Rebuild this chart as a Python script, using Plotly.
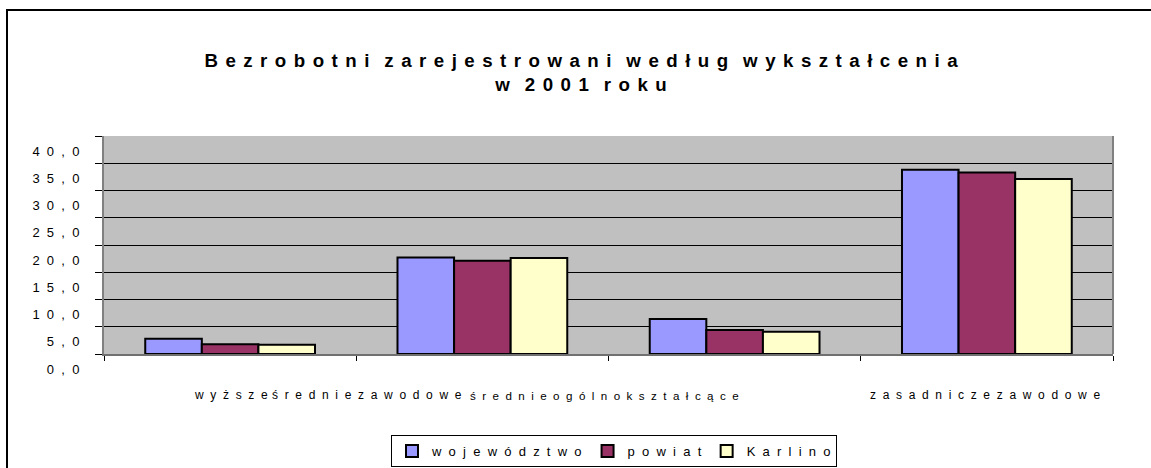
import plotly.graph_objects as go

# ---- data ----
categories = ["wyższe", "średnie zawodowe", "średnie ogólnokształcące", "zasadnicze zawodowe"]
series_names = ["województwo", "powiat", "Karlino"]
wojewodztwo = [2.8, 17.7, 6.4, 33.8]
powiat = [1.8, 17.1, 4.4, 33.3]
karlino = [1.7, 17.6, 4.1, 32.1]
y_tick_values = [0, 5, 10, 15, 20, 25, 30, 35, 40]
y_tick_labels = ["0,0", "5,0", "10,0", "15,0", "20,0", "25,0", "30,0", "35,0", "40,0"]
title_lines = ["Bezrobotni zarejestrowani według wykształcenia", "w 2001 roku"]

colors = ["#9999FF", "#993366", "#FFFFCC"]
G = "\u00a0\u00a0"


def spaced(s, gap=G, word_gap=None):
    if word_gap is None:
        word_gap = gap
    return word_gap.join(gap.join(list(w)) for w in s.split(" "))


W, H = 1151, 468
L, R, T, B = 104, 1113, 136, 354  # plot area in pixels


def px(x):
    return (x - L) / (R - L)


def py(y):
    return (B - y) / (B - T)


fig = go.Figure()
for name, vals, c in zip(series_names, [wojewodztwo, powiat, karlino], colors):
    fig.add_trace(go.Bar(
        x=categories, y=vals, name=spaced(name),
        marker=dict(color=c, line=dict(color="black", width=2)),
    ))

TG = "\u2009\u2009"
TW = "\u2009\u2009\u2009\u2009"
title_text = "<br>".join(spaced(t, gap=TG, word_gap=TW) for t in title_lines)

# x category labels, placed as in the reference (run together)
label_shifts = [-38, -212, -267, -119]
label_sizes = [12, 12, 11.6, 12]
annotations = []
for cat, sh, fs in zip(categories, label_shifts, label_sizes):
    annotations.append(dict(
        x=cat, xref="x", y=py(395), yref="paper", xanchor="left", yanchor="middle",
        text=spaced(cat.replace(" ", "")), showarrow=False, xshift=sh,
        font=dict(size=fs, color="black", family="Liberation Sans, Arial"),
    ))

fig.update_layout(
    width=W, height=H,
    margin=dict(l=L, r=W - R, t=T, b=H - B, autoexpand=False),
    paper_bgcolor="white",
    plot_bgcolor="#C0C0C0",
    font=dict(family="Liberation Sans, Arial", color="black", size=13),
    barmode="group", bargap=0.327, bargroupgap=0,
    title=dict(
        text="<b>" + title_text + "</b>",
        x=581 / W, xref="container", xanchor="center",
        y=1 - 67 / H, yref="container", yanchor="middle",
        font=dict(size=18.7, color="black", family="Liberation Sans, Arial"),
    ),
    showlegend=True,
    legend=dict(
        orientation="h", x=px(391), xanchor="left", y=py(435), yanchor="top",
        bordercolor="black", borderwidth=1, bgcolor="white",
        font=dict(size=13), traceorder="normal",
    ),
    annotations=annotations,
    shapes=[dict(
        type="rect", xref="paper", yref="paper",
        x0=px(7), x1=px(1165), y0=py(480), y1=py(10),
        line=dict(color="black", width=2), fillcolor="rgba(0,0,0,0)", layer="below",
    )],
)

fig.update_xaxes(
    showticklabels=False, ticks="outside", tickson="boundaries", ticklen=5,
    tickcolor="black", showline=True, linecolor="#707070", linewidth=2,
    mirror=False, showgrid=False, fixedrange=True,
)
fig.update_yaxes(
    range=[0, 40], tickvals=y_tick_values,
    ticktext=[spaced(t) for t in y_tick_labels],
    ticks="outside", ticklen=7, tickcolor="black",
    showline=True, linecolor="#808080", linewidth=2,
    showgrid=True, gridcolor="black", gridwidth=1,
    zeroline=False, ticklabelshift=15, ticklabelstandoff=13,
    tickfont=dict(size=13),
)

# right border of plot area
fig.add_shape(type="line", xref="paper", yref="paper", x0=1, x1=1, y0=0, y1=1,
              line=dict(color="#808080", width=2))

fig.write_html(
    "out.html",
    config={"displayModeBar": False},
    post_script="document.body.style.margin='0';document.body.style.overflow='hidden';",
)
